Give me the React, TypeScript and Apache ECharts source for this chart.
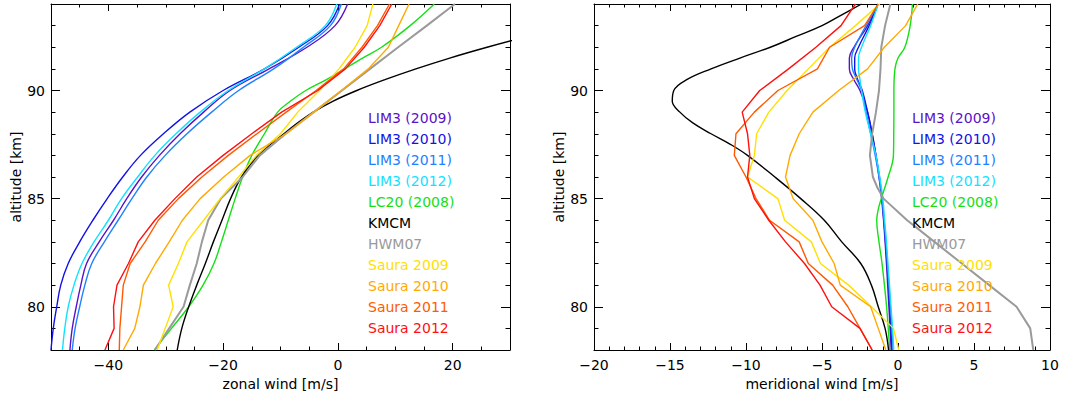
import React, { useEffect, useRef } from "react";
import * as echarts from "echarts";

// ---------- names & colours ----------
const names = [
  "LIM3 (2009)", "LIM3 (2010)", "LIM3 (2011)", "LIM3 (2012)", "LC20 (2008)",
  "KMCM", "HWM07", "Saura 2009", "Saura 2010", "Saura 2011", "Saura 2012",
];
const colors = [
  "#5a12c8", "#1212e6", "#1e82ff", "#12e2ff", "#14e014",
  "#000000", "#9a9a9a", "#ffe000", "#ffaa00", "#ff5a00", "#ff1010",
];

// ---------- altitude grids (km) ----------
const alt = [78, 79, 80, 81, 82, 83, 84, 85, 86, 87, 88, 89, 90, 91, 92, 93, 94];
const altLc20Zon = [78, 79, 80, 81, 82, 83, 84, 85, 86, 87, 88, 89, 89.5, 90, 90.5, 91, 91.5, 92, 93, 94];
const altKmcmZon = [78, 79, 80, 81, 82, 83, 84, 85, 86, 87, 88, 88.5, 89, 89.5, 90, 90.5, 91, 91.5, 92, 92.5];
const altLimMer = [78, 79, 80, 81, 82, 83, 84, 85, 86, 87, 88, 89, 90, 90.5, 91, 91.5, 92, 93, 94];
const altLc20Mer = [78, 80, 82, 83, 84, 84.5, 85, 86, 87, 88, 89, 90, 91, 91.5, 92, 93, 94];
const altKmcmMer = [78, 79, 80, 81, 82, 83, 84, 85, 86, 87, 87.5, 88, 88.5, 89, 89.5, 90, 90.5, 91, 91.5, 92, 92.5, 93, 93.5, 94];
const altHwmMer = [78, 79, 80, 81, 82, 83, 84, 85, 85.5, 86, 87, 88, 89, 90, 91, 92, 93, 94];

// ---------- zonal wind (m/s) ----------
const lim3_2009_z = [-46.7, -46.3, -45.6, -44.8, -43.8, -41.6, -39.1, -36.8, -34.2, -31.1, -27.5, -23.4, -18.8, -12.0, -5.4, -0.5, 1.7];
const lim3_2010_z = [-50.0, -49.6, -49.0, -48.3, -47.0, -45.0, -42.7, -40.2, -37.5, -34.4, -30.4, -25.8, -20.0, -12.8, -6.8, -1.8, 0.3];
const lim3_2011_z = [-46.3, -45.8, -45.0, -44.1, -42.9, -40.7, -38.3, -35.9, -33.3, -30.1, -26.3, -22.0, -17.3, -11.2, -6.0, -1.3, 0.6];
const lim3_2012_z = [-48.0, -47.6, -47.0, -46.0, -44.6, -42.5, -40.0, -37.7, -34.9, -31.9, -28.2, -24.0, -19.1, -12.8, -7.2, -2.2, -0.2];
const lc20_z = [-32.0, -29.0, -26.0, -23.5, -21.6, -20.3, -19.1, -17.9, -16.6, -15.0, -12.8, -10.5, -8.3, -5.6, -2.0, 1.2, 4.3, 7.6, 12.6, 16.8];
const kmcm_z = [-28.0, -27.2, -26.0, -24.6, -23.1, -21.7, -20.2, -18.7, -16.8, -13.9, -9.4, -7.0, -4.3, -0.9, 3.3, 8.2, 13.6, 19.5, 26.0, 33.0];
const hwm07_z = [-31.9, -29.4, -26.9, -25.8, -24.6, -23.7, -22.6, -20.4, -16.6, -13.6, -9.1, -4.2, 0.7, 5.6, 10.5, 15.5, 20.4];
const saura2009_z = [-31.5, -30.1, -28.7, -29.5, -27.8, -26.3, -23.4, -20.5, -17.3, -14.2, -10.0, -7.0, -3.2, 0.2, 3.0, 5.1, 6.1];
const saura2010_z = [-37.4, -35.4, -34.5, -33.9, -31.8, -29.4, -27.1, -24.0, -19.9, -15.3, -9.0, -4.2, 0.6, 5.3, 8.8, 10.6, 12.4];
const saura2011_z = [-38.1, -38.0, -37.7, -37.4, -36.2, -33.6, -31.3, -27.8, -23.7, -19.1, -14.1, -9.0, -3.8, 1.0, 4.2, 6.9, 9.0];
const saura2012_z = [-40.6, -39.0, -39.1, -38.5, -36.5, -34.8, -31.9, -28.4, -24.6, -20.0, -15.0, -9.8, -3.5, 1.3, 4.6, 7.3, 9.4];

// ---------- meridional wind (m/s) ----------
const lim3_2009_m = [-0.45, -0.52, -0.6, -0.68, -0.76, -0.85, -0.95, -1.08, -1.25, -1.45, -1.7, -2.0, -2.5, -2.9, -3.2, -3.2, -2.9, -2.0, -1.3];
const lim3_2010_m = [-0.4, -0.47, -0.55, -0.63, -0.72, -0.82, -0.93, -1.05, -1.22, -1.45, -1.7, -2.0, -2.35, -2.65, -2.85, -2.85, -2.6, -1.9, -1.3];
const lim3_2011_m = [-0.32, -0.4, -0.5, -0.6, -0.7, -0.8, -0.92, -1.05, -1.25, -1.5, -1.8, -2.1, -2.4, -2.7, -3.0, -3.05, -2.85, -2.1, -1.3];
const lim3_2012_m = [-0.28, -0.36, -0.46, -0.56, -0.66, -0.76, -0.88, -1.0, -1.2, -1.45, -1.8, -2.15, -2.4, -2.5, -2.6, -2.6, -2.4, -1.8, -1.3];
const lc20_m = [-0.55, -0.75, -1.05, -1.25, -1.4, -1.3, -1.1, -0.65, -0.3, -0.28, -0.27, -0.27, -0.2, 0.0, 0.45, 0.8, 0.95];
const kmcm_m = [-0.62, -0.85, -1.3, -1.75, -2.45, -3.7, -4.85, -6.4, -8.1, -9.9, -11.0, -12.3, -13.5, -14.35, -14.85, -14.75, -13.9, -12.3, -10.4, -8.4, -6.7, -5.0, -3.7, -2.4];
const hwm07_m = [8.9, 8.7, 7.8, 6.0, 4.2, 2.4, 0.6, -0.95, -1.35, -1.65, -1.85, -1.7, -1.45, -1.25, -1.15, -1.1, -0.85, -0.5];
const saura2009_m = [0.05, -0.3, -1.75, -3.25, -5.1, -5.7, -7.46, -7.9, -9.9, -9.45, -9.3, -8.5, -7.3, -5.9, -4.5, -2.8, -1.2];
const saura2010_m = [-0.8, -1.3, -1.8, -3.8, -4.2, -5.0, -5.6, -6.9, -7.4, -7.1, -6.5, -5.6, -3.9, -2.0, -0.9, 0.5, 1.3];
const saura2011_m = [-1.7, -2.5, -3.3, -4.3, -5.9, -6.5, -8.45, -9.34, -10.0, -10.77, -10.66, -9.45, -7.9, -5.3, -4.5, -2.2, -1.3];
const saura2012_m = [-1.7, -2.5, -4.36, -5.13, -6.15, -7.4, -8.5, -9.45, -9.9, -9.75, -9.9, -10.25, -9.1, -7.2, -5.4, -3.75, -2.8];

// ---------- axis ticks ----------
const zonalMajor = [-40, -20, 0, 20];
const meridMajor = [-20, -15, -10, -5, 0, 5, 10];
const altMajor = [80, 85, 90];

const FONT = "DejaVu Sans";
const fmt = (v: number) => (v < 0 ? "\u2212" + Math.abs(v) : String(v));

type Curve = { alts: number[]; vals: number[]; smooth: boolean };

const zonalCurves: Curve[] = [
  { alts: alt, vals: lim3_2009_z, smooth: true },
  { alts: alt, vals: lim3_2010_z, smooth: true },
  { alts: alt, vals: lim3_2011_z, smooth: true },
  { alts: alt, vals: lim3_2012_z, smooth: true },
  { alts: altLc20Zon, vals: lc20_z, smooth: true },
  { alts: altKmcmZon, vals: kmcm_z, smooth: true },
  { alts: alt, vals: hwm07_z, smooth: false },
  { alts: alt, vals: saura2009_z, smooth: false },
  { alts: alt, vals: saura2010_z, smooth: false },
  { alts: alt, vals: saura2011_z, smooth: false },
  { alts: alt, vals: saura2012_z, smooth: false },
];
const meridCurves: Curve[] = [
  { alts: altLimMer, vals: lim3_2009_m, smooth: true },
  { alts: altLimMer, vals: lim3_2010_m, smooth: true },
  { alts: altLimMer, vals: lim3_2011_m, smooth: true },
  { alts: altLimMer, vals: lim3_2012_m, smooth: true },
  { alts: altLc20Mer, vals: lc20_m, smooth: true },
  { alts: altKmcmMer, vals: kmcm_m, smooth: true },
  { alts: altHwmMer, vals: hwm07_m, smooth: false },
  { alts: alt, vals: saura2009_m, smooth: false },
  { alts: alt, vals: saura2010_m, smooth: false },
  { alts: alt, vals: saura2011_m, smooth: false },
  { alts: alt, vals: saura2012_m, smooth: false },
];

const lineStyleAxis = { color: "#000", width: 1 };

function makeAxes(
  dim: "x" | "y",
  gridIndex: number,
  min: number,
  max: number,
  step: number,
  majors: number[],
  name: string,
  nameGap: number,
  majorLen: number,
  minorLen: number
) {
  const posA = dim === "x" ? "bottom" : "left";
  const posB = dim === "x" ? "top" : "right";
  const base = { type: "value", gridIndex, min, max, splitLine: { show: false } };
  const minor = (position: string, withLabels: boolean) => ({
    ...base,
    position,
    interval: step,
    axisLine: { show: true, onZero: false, lineStyle: lineStyleAxis },
    axisTick: { show: true, inside: true, length: minorLen, lineStyle: lineStyleAxis },
    axisLabel: withLabels
      ? {
          show: true,
          margin: dim === "x" ? 8 : 6,
          color: "#000",
          fontFamily: FONT,
          fontSize: 14,
          formatter: (v: number) => (majors.indexOf(v) >= 0 ? fmt(v) : ""),
        }
      : { show: false },
    ...(withLabels
      ? {
          name,
          nameLocation: "middle",
          nameGap,
          nameRotate: dim === "y" ? 90 : 0,
          nameTextStyle: { color: "#000", fontFamily: FONT, fontSize: 14 },
        }
      : {}),
  });
  const major = (position: string) => ({
    ...base,
    position,
    axisLine: { show: false, onZero: false },
    axisTick: { show: true, inside: true, length: majorLen, customValues: majors, lineStyle: lineStyleAxis },
    axisLabel: { show: false },
  });
  return [minor(posA, true), major(posA), minor(posB, false), major(posB)];
}

function buildSeries(curves: Curve[], axisIndex: number) {
  return curves.map((c, i) => ({
    type: "line",
    name: names[i],
    xAxisIndex: axisIndex,
    yAxisIndex: axisIndex,
    data: c.alts.map((a, k) => [c.vals[k], a]),
    smooth: c.smooth ? 0.4 : false,
    showSymbol: false,
    symbol: "none",
    clip: true,
    lineStyle: { color: colors[i], width: i === 6 ? 2 : 1.4 },
    itemStyle: { color: colors[i] },
    emphasis: { disabled: true },
  }));
}

function makeLegend(left: number) {
  return {
    left,
    top: 107.5,
    orient: "vertical",
    padding: 0,
    icon: "none",
    itemWidth: 0,
    itemHeight: 21,
    itemGap: 0,
    selectedMode: false,
    textStyle: { fontFamily: FONT, fontSize: 14, lineHeight: 21 },
    data: names.map((n, i) => ({ name: n, textStyle: { color: colors[i] } })),
  };
}

export default function App() {
  const ref = useRef<HTMLDivElement>(null);
  useEffect(() => {
    if (!ref.current) return;
    const chart = echarts.init(ref.current, undefined, { renderer: "svg" });
    const option: any = {
      animation: false,
      backgroundColor: "#fff",
      grid: [
        { left: 51, top: 4, width: 459, height: 346 },
        { left: 594, top: 4, width: 456, height: 346 },
      ],
      legend: [makeLegend(363), makeLegend(907)],
      xAxis: [
        ...makeAxes("x", 0, -50, 30, 5, zonalMajor, "zonal wind [m/s]", 27, 7, 3.5),
        ...makeAxes("x", 1, -20, 10, 1, meridMajor, "meridional wind [m/s]", 27, 7, 3.5),
      ],
      yAxis: [
        ...makeAxes("y", 0, 78, 94, 1, altMajor, "altitude [km]", 28, 9, 4.5),
        ...makeAxes("y", 1, 78, 94, 1, altMajor, "altitude [km]", 28, 9, 4.5),
      ],
      series: [...buildSeries(zonalCurves, 0), ...buildSeries(meridCurves, 4)],
    };
    chart.setOption(option);
    return () => chart.dispose();
  }, []);
  return (
    <div
      ref={ref}
      style={{ position: "fixed", left: 0, top: 0, width: 1067, height: 397, background: "#fff" }}
    />
  );
}
